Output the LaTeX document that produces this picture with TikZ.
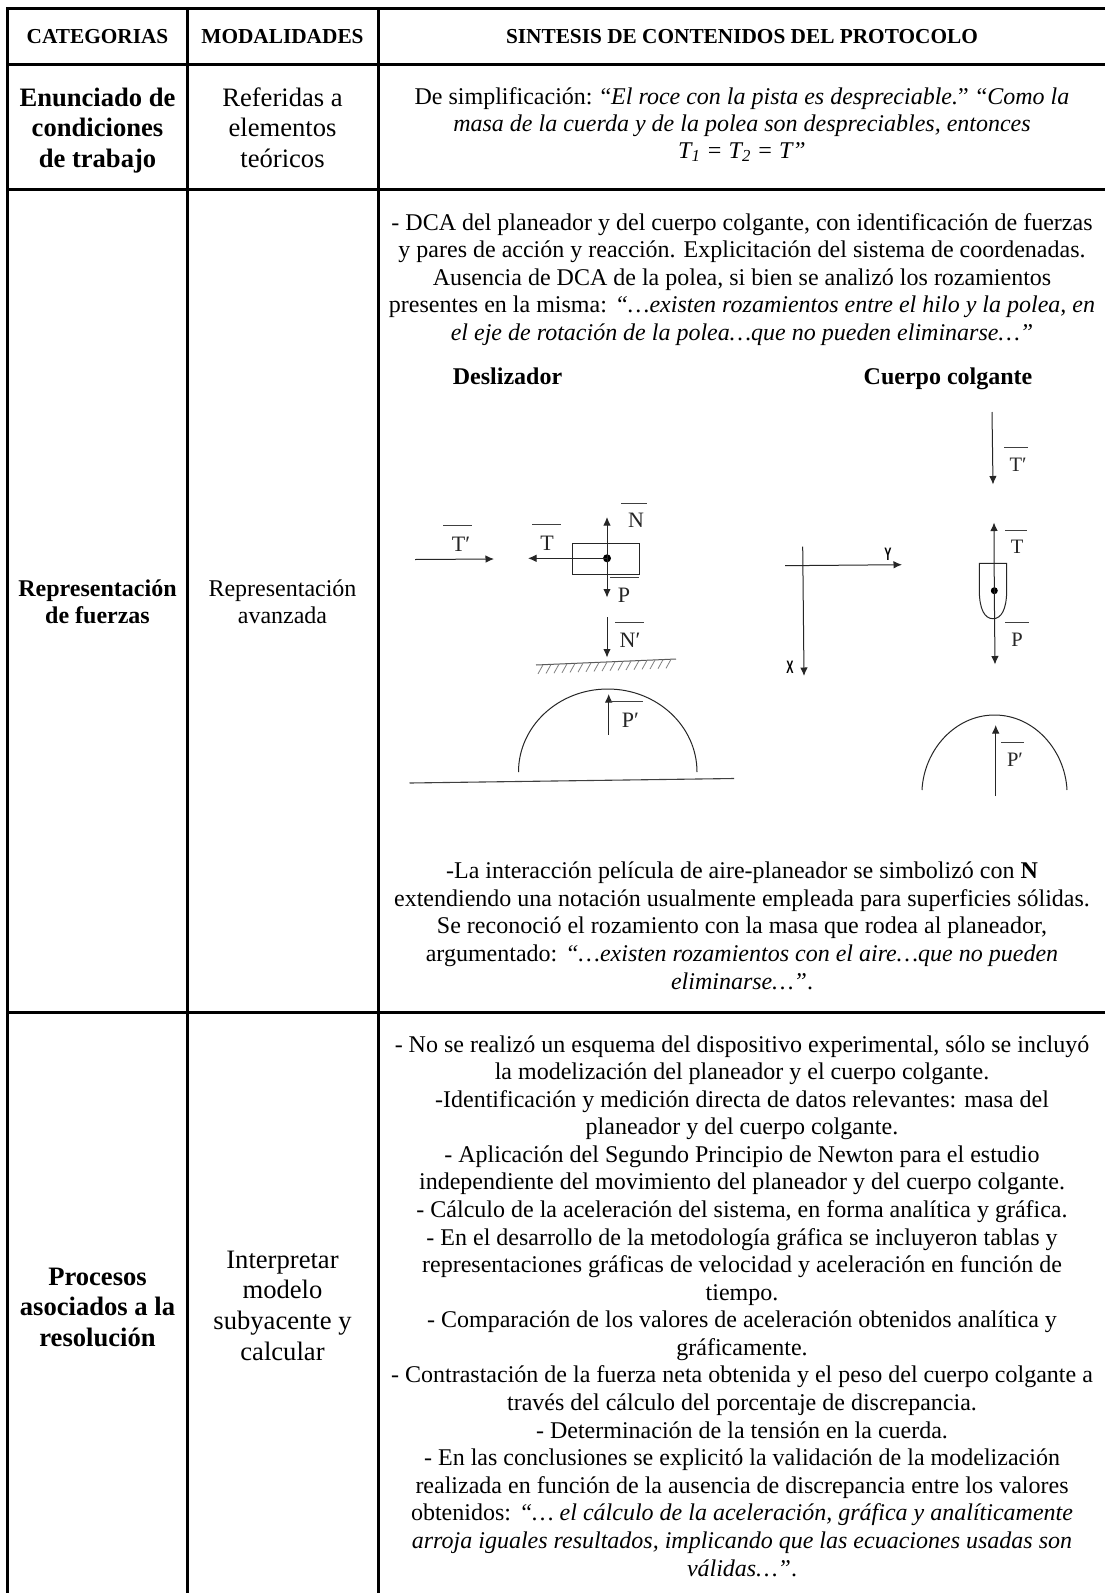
\documentclass[tikz,border=0pt]{standalone}
\usepackage{fontspec}
\usepackage{graphicx}
\setmainfont{Liberation Serif}
\usetikzlibrary{arrows.meta}
\tikzset{
 x=1pt,y=-1pt,
 rule/.style={line width=3pt,black},
 tl/.style={anchor=base,inner sep=0pt,outer sep=0pt,font=\fontsize{24}{27}\selectfont},
 hd/.style={anchor=base,inner sep=0pt,font=\fontsize{21.3}{25}\selectfont\bfseries},
 cat/.style={anchor=base,inner sep=0pt,font=\fontsize{26.6}{30}\selectfont\bfseries},
 catb/.style={anchor=base,inner sep=0pt,font=\fontsize{24}{27}\selectfont\bfseries},
 mod/.style={anchor=base,inner sep=0pt,font=\fontsize{26.6}{30}\selectfont},
 sk/.style={line width=1pt,draw=black!85},
 arr/.style={line width=1pt,draw=black!85,-{Latex[length=8.5pt,width=7.5pt]}},
 lab/.style={anchor=base,inner sep=0pt,font=\fontsize{22}{24}\selectfont,text=black!85},
 labr/.style={anchor=base,inner sep=0pt,font=\fontsize{20.5}{24}\selectfont,text=black!85},
 axl/.style={anchor=base,inner sep=0pt,font=\fontsize{18}{20}\selectfont\sffamily\bfseries},
 bar/.style={line width=1pt,draw=black!75},
 dotn/.style={circle,fill=black,inner sep=0pt,minimum size=8pt},
}
\setsansfont{Liberation Sans}
\newcommand{\cc}[3]{\node[tl] (#1) at (742,#2) {#3};}
\begin{document}
\begin{tikzpicture}
\useasboundingbox (0,0) rectangle (1105,1593);
\fill[white] (0,0) rectangle (1105,1593);
% grid
\draw[rule] (7.5,1593) -- (7.5,8.5);
\draw[rule] (187.5,8.5) -- (187.5,1593);
\draw[rule] (378.5,8.5) -- (378.5,1593);
\draw[rule] (6,8.5) -- (1105,8.5);
\draw[rule] (6,64) -- (1105,64);
\draw[rule] (6,189.5) -- (1105,189.5);
\draw[rule] (6,1012.5) -- (1105,1012.5);
% header
\node[hd] (h1) at (97.5,43.5) {CATEGORIAS};
\node[hd] (h2) at (282.5,43.5) {MODALIDADES};
\node[hd] (h3) at (742,43.5) {SINTESIS DE CONTENIDOS DEL PROTOCOLO};
% col 1
\node[cat] (c1a) at (97.5,106) {Enunciado de};
\node[cat] (c1b) at (97.5,136.5) {condiciones};
\node[cat] (c1c) at (97.5,167) {de trabajo};
\node[catb] (c2a) at (97.5,596.5) {Representación};
\node[catb] (c2b) at (97.5,623) {de fuerzas};
\node[cat] (c3a) at (97.5,1285) {Procesos};
\node[cat] (c3b) at (97.5,1315.5) {asociados a la};
\node[cat] (c3c) at (97.5,1346) {resolución};
% col 2
\node[mod] (m1a) at (282.5,106) {Referidas a};
\node[mod] (m1b) at (282.5,136.5) {elementos};
\node[mod] (m1c) at (282.5,167) {teóricos};
\node[tl] (m2a) at (282.5,596.5) {Representación};
\node[tl] (m2b) at (282.5,623) {avanzada};
\node[mod] (m3a) at (282.5,1268) {Interpretar};
\node[mod] (m3b) at (282.5,1298.5) {modelo};
\node[mod] (m3c) at (282.5,1329) {subyacente y};
\node[mod] (m3d) at (282.5,1360) {calcular};
% col 3 row 1
\cc{a1}{104}{De simplificación: “\textit{El roce con la pista es despreciable.}” “\textit{Como la}}
\cc{a2}{131}{\textit{masa de la cuerda y de la polea son despreciables, entonces}}
\cc{a3}{158}{\textit{T\textsubscript{1} = T\textsubscript{2} = T”}}
% row 2
\cc{b1}{230}{- DCA del planeador y del cuerpo colgante, con identificación de fuerzas}
\cc{b2}{257.5}{y pares de acción y reacción. Explicitación del sistema de coordenadas.}
\cc{b3}{285}{Ausencia de DCA de la polea, si bien se analizó los rozamientos}
\cc{b4}{312.5}{presentes en la misma: \textit{“…existen rozamientos entre el hilo y la polea, en}}
\cc{b5}{340}{\textit{el eje de rotación de la polea…que no pueden eliminarse…”}}
\node[catb] (d1) at (507.5,384) {Deslizador};
\node[catb] (d2) at (948,384) {Cuerpo colgante};
\cc{e1}{878}{-La interacción película de aire-planeador se simbolizó con \textbf{N}}
\cc{e2}{906}{extendiendo una notación usualmente empleada para superficies sólidas.}
\cc{e3}{933.5}{Se reconoció el rozamiento con la masa que rodea al planeador,}
\cc{e4}{961}{argumentado: \textit{“…existen rozamientos con el aire…que no pueden}}
\cc{e5}{989}{\textit{eliminarse…”}.}
% row 3
\cc{f1}{1052}{- No se realizó un esquema del dispositivo experimental, sólo se incluyó}
\cc{f2}{1079.6}{la modelización del planeador y el cuerpo colgante.}
\cc{f3}{1107.2}{-Identificación y medición directa de datos relevantes: masa del}
\cc{f4}{1134.7}{planeador y del cuerpo colgante.}
\cc{f5}{1162.3}{- Aplicación del Segundo Principio de Newton para el estudio}
\cc{f6}{1189.9}{independiente del movimiento del planeador y del cuerpo colgante.}
\cc{f7}{1217.5}{- Cálculo de la aceleración del sistema, en forma analítica y gráfica.}
\cc{f8}{1245}{- En el desarrollo de la metodología gráfica se incluyeron tablas y}
\cc{f9}{1272.6}{representaciones gráficas de velocidad y aceleración en función de}
\cc{f10}{1300.2}{tiempo.}
\cc{f11}{1327.8}{- Comparación de los valores de aceleración obtenidos analítica y}
\cc{f12}{1355.4}{gráficamente.}
\cc{f13}{1382.9}{- Contrastación de la fuerza neta obtenida y el peso del cuerpo colgante a}
\cc{f14}{1410.5}{través del cálculo del porcentaje de discrepancia.}
\cc{f15}{1438}{- Determinación de la tensión en la cuerda.}
\cc{f16}{1465.7}{- En las conclusiones se explicitó la validación de la modelización}
\cc{f17}{1493.3}{realizada en función de la ausencia de discrepancia entre los valores}
\cc{f18}{1520.8}{obtenidos: \textit{“… el cálculo de la aceleración, gráfica y analíticamente}}
\cc{f19}{1548.4}{\textit{arroja iguales resultados, implicando que las ecuaciones usadas son}}
\cc{f20}{1576}{\textit{válidas…”}.}
% left sketch
\coordinate (tpa) at (415,559.5); \coordinate (tpb) at (494,559);
\draw[arr] (tpa) -- (tpb);
\node[lab] (ltp) at (461,551.5) {T′};
\draw[bar] (443,525.7) -- (472,525.7);
\node[dotn] (dl) at (607,558.3) {};
\draw[sk] (572,543.5) rectangle (639.5,574.5);
\coordinate (tl) at (528,558.3);
\draw[arr] (dl.center) -- (tl);
\node[lab] (lt) at (547,550.5) {T};
\draw[bar] (532,524.3) -- (561,524.3);
\coordinate (nt) at (607,517);
\coordinate (pb) at (607,597.5);
\draw[arr] (dl.center) -- (nt);
\draw[arr] (dl.center) -- (pb);
\node[lab] (ln) at (636,527.5) {N};
\draw[bar] (621,503) -- (646.5,503);
\node[lab] (lp) at (624,602.5) {P};
\draw[bar] (610,577.7) -- (639,577.7);
\coordinate (npa) at (607,617); \coordinate (npb) at (607,657.5);
\draw[arr] (npa) -- (npb);
\node[lab] (lnp) at (630,647) {N′};
\draw[bar] (615,622) -- (643.5,622);
\draw[line width=1pt,black!65] (536,665) -- (676,659);
\draw[line width=0.8pt,black!50] \foreach \x [evaluate=\x as \yy using 665-(\x-536)*0.043] in {540,548,...,668} {(\x+3,\yy) -- (\x-2,\yy+9)};
\draw[sk] (518.5,772) arc[start angle=180,end angle=360,x radius=89.25,y radius=83];
\coordinate (ppa) at (608.7,734.5); \coordinate (ppb) at (608.7,694);
\draw[arr] (ppa) -- (ppb);
\node[lab] (lpp) at (630.5,727) {P′};
\draw[bar] (610,701.7) -- (643,701.7);
\draw[line width=1.1pt,black!75] (409.5,783) -- (734,778.5);
% axes
\coordinate (xa) at (802.7,546.7); \coordinate (xb) at (804,676);
\coordinate (ya) at (785,565.7); \coordinate (yb) at (902,564.7);
\draw[arr] (ya) -- (yb);
\draw[arr] (xa) -- (xb);
\node[axl] (ly) at (888,560) {\scalebox{0.6}[1]{Y}};
\node[axl] (lx) at (790,673) {\scalebox{0.6}[1]{X}};
% right sketch
\coordinate (t1a) at (992,412); \coordinate (t1b) at (993,484.5);
\draw[arr] (t1a) -- (t1b);
\node[labr] (r1) at (1018,471) {T′};
\draw[bar] (1004,447.7) -- (1027.5,447.7);
\node[dotn,minimum size=7pt] (dr) at (994.3,590.7) {};
\coordinate (t2) at (994,522.5);
\coordinate (p2) at (995,664.5);
\draw[arr] (dr.center) -- (t2);
\draw[arr] (dr.center) -- (p2);
\node[labr] (r2) at (1017,553) {T};
\draw[bar] (1005,530) -- (1027,530);
\node[labr] (r3) at (1017,646) {P};
\draw[bar] (1005,622) -- (1029,622);
\draw[sk] (979.3,563.3) -- (1006.7,563.3) -- (1006.7,590) .. controls (1006.7,610) and (1001,618.7) .. (993,618.7) .. controls (985,618.7) and (979.3,610) .. (979.3,590) -- cycle;
\draw[sk] (922,790) .. controls (924,750) and (955,715) .. (994.5,715) .. controls (1034,715) and (1065,750) .. (1067,790);
\coordinate (p3a) at (995.7,796); \coordinate (p3b) at (995.7,725);
\draw[arr] (p3a) -- (p3b);
\node[labr] (r4) at (1015,766) {P′};
\draw[bar] (1001,742) -- (1024,742);
\end{tikzpicture}
\end{document}
